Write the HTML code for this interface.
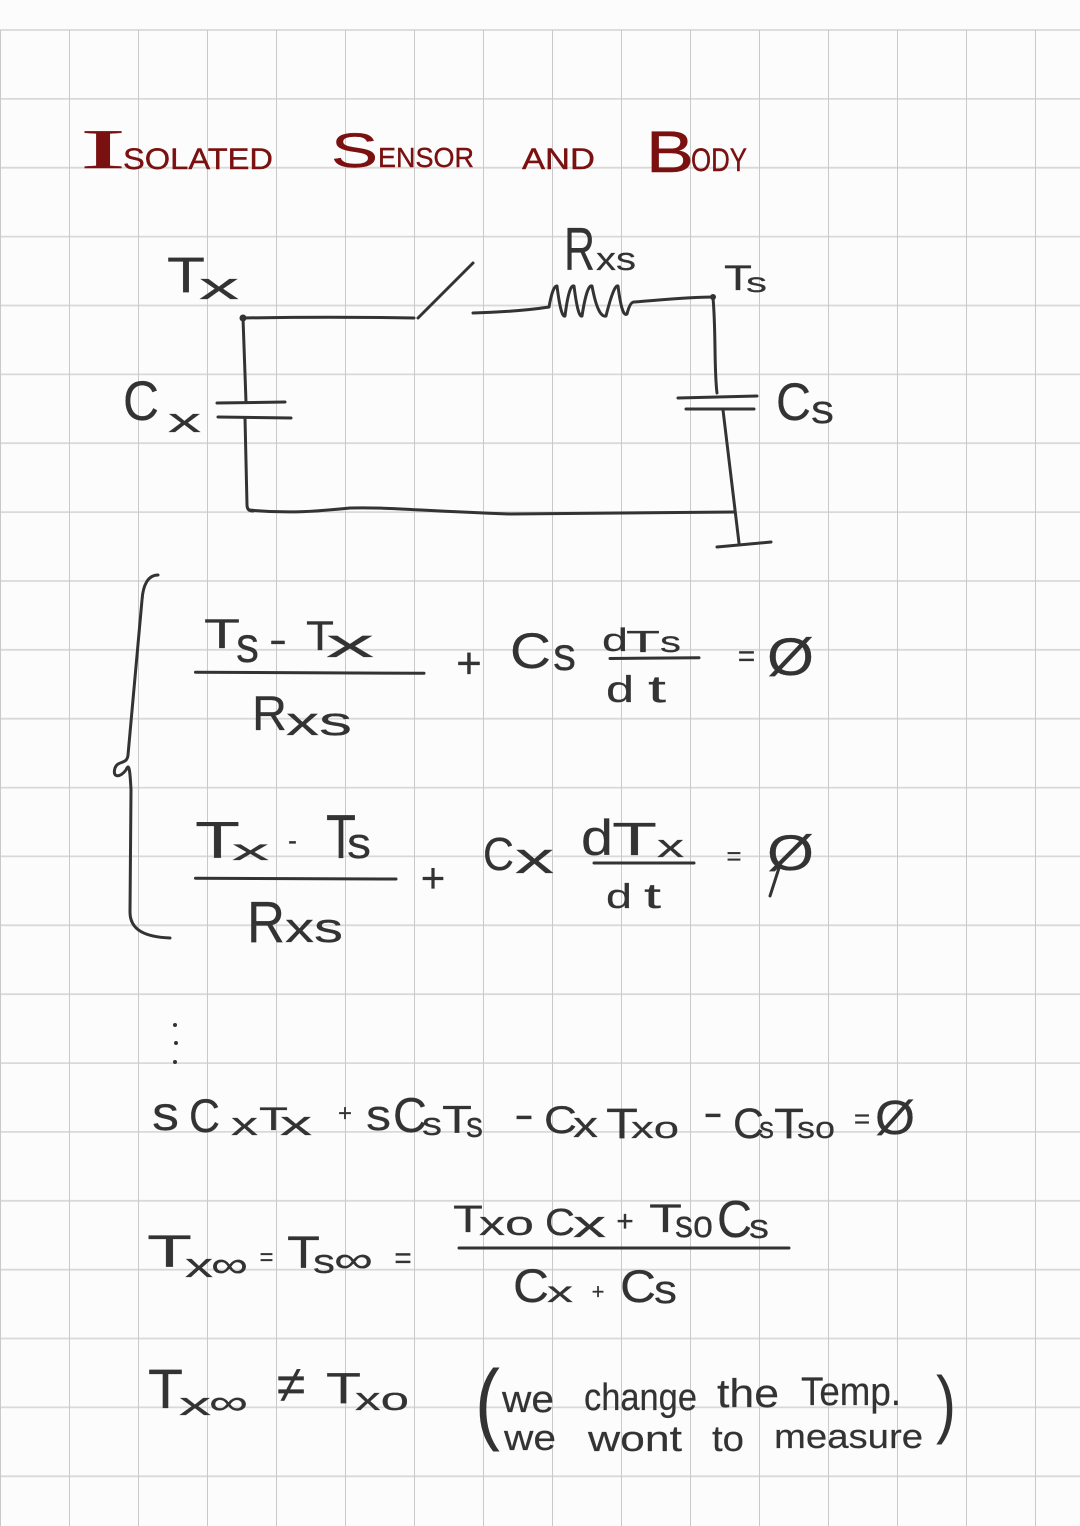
<!DOCTYPE html>
<html>
<head>
<meta charset="utf-8">
<style>
html,body{margin:0;padding:0;background:#fcfcfc;}
svg{display:block;}
text{font-family:"Liberation Sans","DejaVu Sans",sans-serif;fill:#333;stroke:#333;stroke-width:0.2;}
.t{fill:#7a1010;stroke:#7a1010;stroke-width:0.4;}
.ink{fill:none;stroke:#333;stroke-width:3;stroke-linecap:round;stroke-linejoin:round;}
</style>
</head>
<body>
<svg width="1080" height="1526" viewBox="0 0 1080 1526" xmlns="http://www.w3.org/2000/svg">
<rect width="1080" height="1526" fill="#fcfcfc"/>
<!-- grid -->
<g stroke="#d9d9d9" stroke-width="1.8">
<line x1="0" y1="30" x2="1080" y2="30"/>
<line x1="0" y1="98.9" x2="1080" y2="98.9"/>
<line x1="0" y1="167.7" x2="1080" y2="167.7"/>
<line x1="0" y1="236.6" x2="1080" y2="236.6"/>
<line x1="0" y1="305.5" x2="1080" y2="305.5"/>
<line x1="0" y1="374.4" x2="1080" y2="374.4"/>
<line x1="0" y1="443.2" x2="1080" y2="443.2"/>
<line x1="0" y1="512.1" x2="1080" y2="512.1"/>
<line x1="0" y1="581" x2="1080" y2="581"/>
<line x1="0" y1="649.8" x2="1080" y2="649.8"/>
<line x1="0" y1="718.7" x2="1080" y2="718.7"/>
<line x1="0" y1="787.6" x2="1080" y2="787.6"/>
<line x1="0" y1="856.4" x2="1080" y2="856.4"/>
<line x1="0" y1="925.3" x2="1080" y2="925.3"/>
<line x1="0" y1="994.2" x2="1080" y2="994.2"/>
<line x1="0" y1="1063.1" x2="1080" y2="1063.1"/>
<line x1="0" y1="1131.9" x2="1080" y2="1131.9"/>
<line x1="0" y1="1200.8" x2="1080" y2="1200.8"/>
<line x1="0" y1="1269.7" x2="1080" y2="1269.7"/>
<line x1="0" y1="1338.5" x2="1080" y2="1338.5"/>
<line x1="0" y1="1407.4" x2="1080" y2="1407.4"/>
<line x1="0" y1="1476.3" x2="1080" y2="1476.3"/>
</g>
<g stroke="#c9c9c9" stroke-width="1">
<line x1="0.5" y1="30" x2="0.5" y2="1526"/>
<line x1="69.5" y1="30" x2="69.5" y2="1526"/>
<line x1="138.5" y1="30" x2="138.5" y2="1526"/>
<line x1="207.5" y1="30" x2="207.5" y2="1526"/>
<line x1="276.5" y1="30" x2="276.5" y2="1526"/>
<line x1="345.5" y1="30" x2="345.5" y2="1526"/>
<line x1="414.5" y1="30" x2="414.5" y2="1526"/>
<line x1="483.5" y1="30" x2="483.5" y2="1526"/>
<line x1="552.5" y1="30" x2="552.5" y2="1526"/>
<line x1="621.5" y1="30" x2="621.5" y2="1526"/>
<line x1="690.5" y1="30" x2="690.5" y2="1526"/>
<line x1="759.5" y1="30" x2="759.5" y2="1526"/>
<line x1="828.5" y1="30" x2="828.5" y2="1526"/>
<line x1="897.5" y1="30" x2="897.5" y2="1526"/>
<line x1="966.5" y1="30" x2="966.5" y2="1526"/>
<line x1="1035.5" y1="30" x2="1035.5" y2="1526"/>
</g>

<!-- Title -->
<text class="t" x="80" y="168" font-size="56" textLength="46" lengthAdjust="spacingAndGlyphs" style="font-family:'Liberation Serif',serif">I</text>
<text class="t" x="123" y="169" font-size="30" textLength="150" lengthAdjust="spacingAndGlyphs">SOLATED</text>
<text class="t" x="331" y="167" font-size="48" textLength="47" lengthAdjust="spacingAndGlyphs">S</text>
<text class="t" x="378" y="167" font-size="28" textLength="96" lengthAdjust="spacingAndGlyphs">ENSOR</text>
<text class="t" x="522" y="169" font-size="30" textLength="73" lengthAdjust="spacingAndGlyphs">AND</text>
<text class="t" x="646" y="172" font-size="58" textLength="48" lengthAdjust="spacingAndGlyphs">B</text>
<text class="t" x="691" y="171" font-size="32" textLength="56" lengthAdjust="spacingAndGlyphs">ODY</text>

<!-- Circuit -->
<circle cx="243" cy="318" r="3.5" fill="#333"/>
<path class="ink" d="M243,318 C300,317 360,317 414,318"/>
<path class="ink" d="M418,318 L473,263"/>
<path class="ink" d="M473,313 C505,312 530,310 549,307"/>
<path class="ink" d="M549,307 Q553,285 557,286 Q561,318 565,316 Q569,284 574,286 Q578,318 582,316 Q587,284 592,286 Q598,318 606,316 Q614,284 618,286 Q622,318 627,314 Q630,302 634,302"/>
<path class="ink" d="M634,302 C660,300 690,297 713,297"/>
<circle cx="713" cy="297" r="3" fill="#333"/>
<path class="ink" d="M713,298 C716,330 714,370 717,393"/>
<path class="ink" d="M678,398 L757,396"/>
<path class="ink" d="M686,409 L754,409"/>
<path class="ink" d="M723,410 L739,543"/>
<path class="ink" d="M717,547 L771,542"/>
<path class="ink" d="M243,318 L246,402"/>
<path class="ink" d="M217,403 L285,402"/>
<path class="ink" d="M218,417 L291,418"/>
<path class="ink" d="M245,418 L247,505 Q247,511 253,511"/>
<path class="ink" d="M249,510 C290,514 320,511 350,508 C390,507 420,511 510,514 L735,512"/>

<!-- circuit labels -->
<text x="167" y="292" font-size="50" textLength="38" lengthAdjust="spacingAndGlyphs">T</text>
<text x="199" y="299" font-size="38" textLength="40" lengthAdjust="spacingAndGlyphs">x</text>
<text x="564" y="270" font-size="60" textLength="31" lengthAdjust="spacingAndGlyphs">R</text>
<text x="596" y="270" font-size="32" textLength="40" lengthAdjust="spacingAndGlyphs">xs</text>
<text x="724" y="290" font-size="35" textLength="28" lengthAdjust="spacingAndGlyphs">T</text>
<text x="746" y="292" font-size="28" textLength="21" lengthAdjust="spacingAndGlyphs">s</text>
<text x="123" y="420" font-size="56" textLength="36" lengthAdjust="spacingAndGlyphs">C</text>
<text x="168" y="432" font-size="34" textLength="33" lengthAdjust="spacingAndGlyphs">x</text>
<text x="776" y="420" font-size="53" textLength="35" lengthAdjust="spacingAndGlyphs">C</text>
<text x="811" y="423" font-size="40" textLength="23" lengthAdjust="spacingAndGlyphs">s</text>

<!-- Brace -->
<path class="ink" d="M158,575 C148,575 143,585 142,600 L128,755 C127,765 118,760 115,768 C112,778 120,778 126,770 C129,762 130,770 131,790 L130,912 C130,930 145,937 170,938"/>

<!-- Equation 1 -->
<text x="204" y="648" font-size="42" textLength="36" lengthAdjust="spacingAndGlyphs">T</text>
<text x="236" y="662" font-size="50" textLength="23" lengthAdjust="spacingAndGlyphs">s</text>
<text x="269" y="653" font-size="40" textLength="18" lengthAdjust="spacingAndGlyphs">-</text>
<text x="306" y="650" font-size="42" textLength="28" lengthAdjust="spacingAndGlyphs">T</text>
<text x="326" y="657" font-size="40" textLength="48" lengthAdjust="spacingAndGlyphs">x</text>
<path class="ink" d="M195.5,672.3 L424,673.3"/>
<text x="252" y="730" font-size="49" textLength="35" lengthAdjust="spacingAndGlyphs">R</text>
<text x="286" y="735" font-size="40" textLength="66" lengthAdjust="spacingAndGlyphs">xs</text>
<text x="469" y="678" font-size="44" text-anchor="middle">+</text>
<text x="510" y="668" font-size="50" textLength="41" lengthAdjust="spacingAndGlyphs">C</text>
<text x="553" y="670" font-size="46" textLength="23" lengthAdjust="spacingAndGlyphs">s</text>
<text x="602" y="651" font-size="32" textLength="26" lengthAdjust="spacingAndGlyphs">d</text>
<text x="626" y="652" font-size="31" textLength="34" lengthAdjust="spacingAndGlyphs">T</text>
<text x="660" y="652" font-size="30" textLength="21" lengthAdjust="spacingAndGlyphs">s</text>
<path class="ink" d="M610,658.5 L699,657.7"/>
<text x="606" y="702" font-size="37" textLength="28" lengthAdjust="spacingAndGlyphs">d</text>
<text x="648" y="702" font-size="38" textLength="18" lengthAdjust="spacingAndGlyphs">t</text>
<text x="746.5" y="666" font-size="30" text-anchor="middle">=</text>
<text x="767" y="675" font-size="53" textLength="47" lengthAdjust="spacingAndGlyphs">Ø</text>

<!-- Equation 2 -->
<text x="195" y="858" font-size="52" textLength="45" lengthAdjust="spacingAndGlyphs">T</text>
<text x="232" y="860" font-size="30" textLength="37" lengthAdjust="spacingAndGlyphs">x</text>
<text x="288" y="850" font-size="30" textLength="9" lengthAdjust="spacingAndGlyphs">-</text>
<text x="326" y="858" font-size="62" textLength="30" lengthAdjust="spacingAndGlyphs">T</text>
<text x="347" y="858" font-size="44" textLength="24" lengthAdjust="spacingAndGlyphs">s</text>
<path class="ink" d="M195.5,878.3 L396,879"/>
<text x="247" y="942" font-size="58" textLength="38" lengthAdjust="spacingAndGlyphs">R</text>
<text x="285" y="942" font-size="42" textLength="58" lengthAdjust="spacingAndGlyphs">xs</text>
<text x="433" y="892" font-size="42" text-anchor="middle">+</text>
<text x="483" y="870" font-size="46" textLength="31" lengthAdjust="spacingAndGlyphs">C</text>
<text x="515" y="873" font-size="44" textLength="39" lengthAdjust="spacingAndGlyphs">x</text>
<text x="581" y="855" font-size="50" textLength="32" lengthAdjust="spacingAndGlyphs">d</text>
<text x="612" y="855" font-size="46" textLength="45" lengthAdjust="spacingAndGlyphs">T</text>
<text x="657" y="857" font-size="32" textLength="27" lengthAdjust="spacingAndGlyphs">x</text>
<path class="ink" d="M594,863 L694,863"/>
<text x="606" y="908" font-size="34" textLength="26" lengthAdjust="spacingAndGlyphs">d</text>
<text x="644" y="908" font-size="35" textLength="17" lengthAdjust="spacingAndGlyphs">t</text>
<text x="734" y="865" font-size="26" text-anchor="middle">=</text>
<text x="767" y="870" font-size="50" textLength="47" lengthAdjust="spacingAndGlyphs">Ø</text>
<path class="ink" d="M779,868 L770,896"/>

<!-- dots -->
<circle cx="175" cy="1025" r="2" fill="#333"/>
<circle cx="176" cy="1043" r="2" fill="#333"/>
<circle cx="175" cy="1062" r="2" fill="#333"/>

<!-- Line 3 -->
<text x="152" y="1130" font-size="48" textLength="27" lengthAdjust="spacingAndGlyphs">s</text>
<text x="189" y="1132" font-size="47" textLength="31" lengthAdjust="spacingAndGlyphs">C</text>
<text x="231" y="1135" font-size="32" textLength="27" lengthAdjust="spacingAndGlyphs">x</text>
<text x="259" y="1130" font-size="32" textLength="29" lengthAdjust="spacingAndGlyphs">T</text>
<text x="280" y="1135" font-size="34" textLength="32" lengthAdjust="spacingAndGlyphs">x</text>
<text x="345" y="1121" font-size="24" text-anchor="middle">+</text>
<text x="366" y="1130" font-size="44" textLength="25" lengthAdjust="spacingAndGlyphs">s</text>
<text x="393" y="1132" font-size="49" textLength="34" lengthAdjust="spacingAndGlyphs">C</text>
<text x="422" y="1135" font-size="32" textLength="20" lengthAdjust="spacingAndGlyphs">s</text>
<text x="442" y="1133" font-size="39" textLength="30" lengthAdjust="spacingAndGlyphs">T</text>
<text x="466" y="1137" font-size="36" textLength="17" lengthAdjust="spacingAndGlyphs">s</text>
<text x="514" y="1128" font-size="40" textLength="20" lengthAdjust="spacingAndGlyphs">-</text>
<text x="544" y="1133" font-size="39" textLength="33" lengthAdjust="spacingAndGlyphs">C</text>
<text x="573" y="1137" font-size="36" textLength="25" lengthAdjust="spacingAndGlyphs">x</text>
<text x="606" y="1138" font-size="43" textLength="32" lengthAdjust="spacingAndGlyphs">T</text>
<text x="631" y="1138" font-size="31" textLength="48" lengthAdjust="spacingAndGlyphs">xo</text>
<text x="703" y="1126" font-size="40" textLength="20" lengthAdjust="spacingAndGlyphs">-</text>
<text x="733" y="1138" font-size="43" textLength="31" lengthAdjust="spacingAndGlyphs">C</text>
<text x="759" y="1138" font-size="31" textLength="15" lengthAdjust="spacingAndGlyphs">s</text>
<text x="774" y="1138" font-size="43" textLength="30" lengthAdjust="spacingAndGlyphs">T</text>
<text x="797" y="1138" font-size="31" textLength="38" lengthAdjust="spacingAndGlyphs">so</text>
<text x="862" y="1128" font-size="28" text-anchor="middle">=</text>
<text x="875" y="1134" font-size="48" textLength="40" lengthAdjust="spacingAndGlyphs">Ø</text>

<!-- Line 4 -->
<text x="147" y="1267" font-size="45" textLength="45" lengthAdjust="spacingAndGlyphs">T</text>
<text x="185" y="1277" font-size="34" textLength="28" lengthAdjust="spacingAndGlyphs">x</text>
<text x="211" y="1277" font-size="36" textLength="37" lengthAdjust="spacingAndGlyphs">∞</text>
<text x="266.5" y="1265" font-size="24" text-anchor="middle">=</text>
<text x="287" y="1268" font-size="45" textLength="33" lengthAdjust="spacingAndGlyphs">T</text>
<text x="313" y="1273" font-size="34" textLength="22" lengthAdjust="spacingAndGlyphs">s</text>
<text x="334" y="1272" font-size="36" textLength="39" lengthAdjust="spacingAndGlyphs">∞</text>
<text x="403" y="1268" font-size="30" text-anchor="middle">=</text>
<text x="453" y="1232" font-size="38" textLength="30" lengthAdjust="spacingAndGlyphs">T</text>
<text x="479" y="1235" font-size="34" textLength="55" lengthAdjust="spacingAndGlyphs">xo</text>
<text x="545" y="1235" font-size="38" textLength="30" lengthAdjust="spacingAndGlyphs">C</text>
<text x="573" y="1237" font-size="38" textLength="33" lengthAdjust="spacingAndGlyphs">x</text>
<text x="625" y="1231" font-size="30" text-anchor="middle">+</text>
<text x="649" y="1232" font-size="40" textLength="33" lengthAdjust="spacingAndGlyphs">T</text>
<text x="675" y="1237" font-size="38" textLength="38" lengthAdjust="spacingAndGlyphs">so</text>
<text x="717" y="1237" font-size="52" textLength="35" lengthAdjust="spacingAndGlyphs">C</text>
<text x="749" y="1238" font-size="34" textLength="20" lengthAdjust="spacingAndGlyphs">s</text>
<path class="ink" d="M459,1248 L789,1248" stroke-width="4"/>
<text x="513" y="1302" font-size="47" textLength="36" lengthAdjust="spacingAndGlyphs">C</text>
<text x="547" y="1302" font-size="30" textLength="26" lengthAdjust="spacingAndGlyphs">x</text>
<text x="598" y="1299" font-size="22" text-anchor="middle">+</text>
<text x="620" y="1302" font-size="45" textLength="36" lengthAdjust="spacingAndGlyphs">C</text>
<text x="654" y="1303" font-size="40" textLength="23" lengthAdjust="spacingAndGlyphs">s</text>

<!-- Line 5 -->
<text x="148" y="1408" font-size="56" textLength="35" lengthAdjust="spacingAndGlyphs">T</text>
<text x="179" y="1415" font-size="32" textLength="32" lengthAdjust="spacingAndGlyphs">x</text>
<text x="209" y="1414" font-size="34" textLength="39" lengthAdjust="spacingAndGlyphs">∞</text>
<text x="291" y="1402" font-size="52" text-anchor="middle">≠</text>
<text x="326" y="1403" font-size="44" textLength="35" lengthAdjust="spacingAndGlyphs">T</text>
<text x="355" y="1410" font-size="32" textLength="54" lengthAdjust="spacingAndGlyphs">xo</text>
<text x="475" y="1433" font-size="90" textLength="25" lengthAdjust="spacingAndGlyphs" style="stroke-width:0">(</text>
<text x="502" y="1412" font-size="38" textLength="52" lengthAdjust="spacingAndGlyphs">we</text>
<text x="584" y="1410" font-size="38" textLength="113" lengthAdjust="spacingAndGlyphs">change</text>
<text x="717" y="1407" font-size="40" textLength="62" lengthAdjust="spacingAndGlyphs">the</text>
<text x="801" y="1405" font-size="40" textLength="100" lengthAdjust="spacingAndGlyphs">Temp.</text>
<text x="936" y="1429" font-size="75" textLength="20" lengthAdjust="spacingAndGlyphs" style="stroke-width:0">)</text>
<text x="504" y="1450" font-size="36" textLength="52" lengthAdjust="spacingAndGlyphs">we</text>
<text x="588" y="1451" font-size="36" textLength="94" lengthAdjust="spacingAndGlyphs">wont</text>
<text x="712" y="1451" font-size="36" textLength="32" lengthAdjust="spacingAndGlyphs">to</text>
<text x="774" y="1448" font-size="34" textLength="149" lengthAdjust="spacingAndGlyphs">measure</text>
</svg>
</body>
</html>
